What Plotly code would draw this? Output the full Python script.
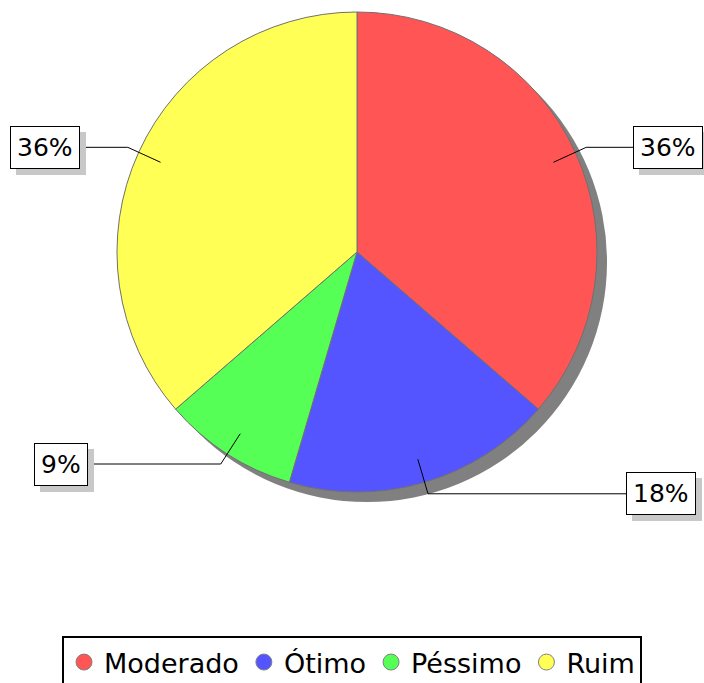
import math
import plotly.graph_objects as go

categories = ["Moderado", "Ótimo", "Péssimo", "Ruim"]
values = [4, 2, 1, 4]
colors = ["#FF5555", "#5555FF", "#55FF55", "#FFFF55"]

W, H = 704, 683
CX, CY, R = 357, 252, 240
SHADOW = 10
label_x = [633, 626, 88, 80]  # inner edge of each label box (pixels)
FONT = "DejaVu Sans"


def px_x(x):
    return x / W


def px_y(y):
    return 1 - y / H


fig = go.Figure()

# shadow of pie
fig.add_trace(go.Pie(
    values=[1], labels=["shadow"], marker=dict(colors=["#808080"], line=dict(width=0)),
    textinfo="none", hoverinfo="skip", showlegend=False, sort=False,
    domain=dict(x=[px_x(CX - R + SHADOW), px_x(CX + R + SHADOW)],
                y=[px_y(CY + R + SHADOW), px_y(CY - R + SHADOW)]),
))

fig.add_trace(go.Pie(
    values=values, labels=categories, sort=False, direction="clockwise", rotation=0,
    marker=dict(colors=colors, line=dict(color="#707070", width=1)),
    textinfo="none", showlegend=False,
    domain=dict(x=[px_x(CX - R), px_x(CX + R)], y=[px_y(CY + R), px_y(CY - R)]),
))

# legend entries with circles
for c, col in zip(categories, colors):
    fig.add_trace(go.Scatter(
        x=[None], y=[None], mode="markers", name=c,
        marker=dict(symbol="circle", size=22, color=col, line=dict(color="#808080", width=1)),
    ))

total = sum(values)
shapes = []
annotations = []
cum = 0
for i, v in enumerate(values):
    mid = (cum + v / 2) / total * 2 * math.pi
    cum += v
    sx, sy = CX + 0.9 * R * math.sin(mid), CY - 0.9 * R * math.cos(mid)
    ex, ey = CX + 1.05 * R * math.sin(mid), CY - 1.05 * R * math.cos(mid)
    lx = label_x[i]
    shapes.append(dict(type="path", xref="x", yref="y", layer="above",
                       path=f"M{sx},{sy} L{ex},{ey} L{lx},{ey}",
                       line=dict(color="black", width=1)))
    right = math.sin(mid) >= 0
    txt = f"{round(v / total * 100)}%"
    common = dict(x=lx, y=ey, xref="x", yref="y", showarrow=False, text=txt,
                  xanchor="left" if right else "right", yanchor="middle",
                  borderpad=6, borderwidth=1)
    annotations.append(dict(common, xshift=6, yshift=-6, bgcolor="#c8c8c8",
                            bordercolor="#c8c8c8", font=dict(family=FONT, size=25, color="#c8c8c8")))
    annotations.append(dict(common, bgcolor="white", bordercolor="black",
                            font=dict(family=FONT, size=25, color="black")))

fig.update_layout(
    width=W, height=H, margin=dict(l=0, r=0, t=0, b=0, autoexpand=False),
    paper_bgcolor="white", plot_bgcolor="rgba(0,0,0,0)",
    xaxis=dict(range=[0, W], visible=False, domain=[0, 1], fixedrange=True),
    yaxis=dict(range=[H, 0], visible=False, domain=[0, 1], fixedrange=True),
    shapes=shapes, annotations=annotations,
    showlegend=True,
    legend=dict(orientation="h", x=px_x(62), xanchor="left", y=px_y(636), yanchor="top",
                bordercolor="black", borderwidth=2, bgcolor="white",
                font=dict(family=FONT, size=27, color="black"),
                itemsizing="trace", itemwidth=30, tracegroupgap=0),
)

fig.write_html("out.html")
